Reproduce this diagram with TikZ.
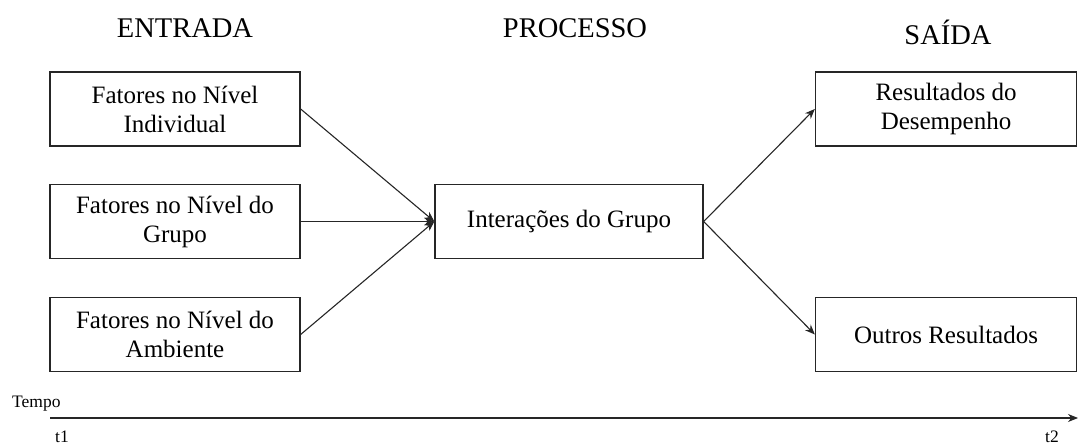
\documentclass[tikz,border=0pt]{standalone}
\usepackage{fontspec}
\setmainfont{Liberation Serif}
\usetikzlibrary{arrows.meta}
\begin{document}
\begin{tikzpicture}[x=1pt,y=-1pt,
  box/.style={draw=black!85, line width=1.3pt, minimum height=74pt, inner sep=0pt,
    font=\fontsize{25}{29}\selectfont, align=center, text=black},
  head/.style={font=\fontsize{28.5}{32}\selectfont, text=black},
  small/.style={font=\fontsize{17.5}{20}\selectfont, text=black, inner sep=0pt},
  conn/.style={draw=black!85, line width=1.1pt, -{Stealth[length=10pt,width=8pt]}}]
\useasboundingbox (0,0) rectangle (1078,444);
\node[head] (hin) at (185,28) {ENTRADA};
\node[head] (hpr) at (575,28) {PROCESSO};
\node[head] (hout) at (948,32) {SAÍDA};
\node[box, minimum width=250pt] (ind) at (175,109) {Fatores no Nível\\Individual};
\node[box, minimum width=250pt] (gru) at (175,221.5) {Fatores no Nível do\\Grupo};
\node[box, minimum width=250pt] (amb) at (175,334.5) {Fatores no Nível do\\Ambiente};
\node[box, minimum width=268pt] (int) at (569,221.5) {Interações do Grupo};
\node[box, minimum width=261pt] (res) at (946,109) {Resultados do\\Desempenho};
\node[box, minimum width=261pt] (out) at (946,334.5) {Outros Resultados};
\draw[conn] (ind.east) -- (int.west);
\draw[conn] (gru.east) -- (int.west);
\draw[conn] (amb.east) -- (int.west);
\draw[conn] (int.east) -- (res.west);
\draw[conn] (int.east) -- (out.west);
\coordinate (t0) at (50,418);
\coordinate (tend) at (1078,418);
\draw[draw=black!85, line width=1.1pt, -{Stealth[length=10pt,width=8pt]}] (t0) -- (tend);
\node[small, anchor=base west] (tempo) at (12,407) {Tempo};
\node[small, anchor=base west] (t1) at (55,442) {t1};
\node[small, anchor=base west] (t2) at (1045,442) {t2};
\end{tikzpicture}
\end{document}
